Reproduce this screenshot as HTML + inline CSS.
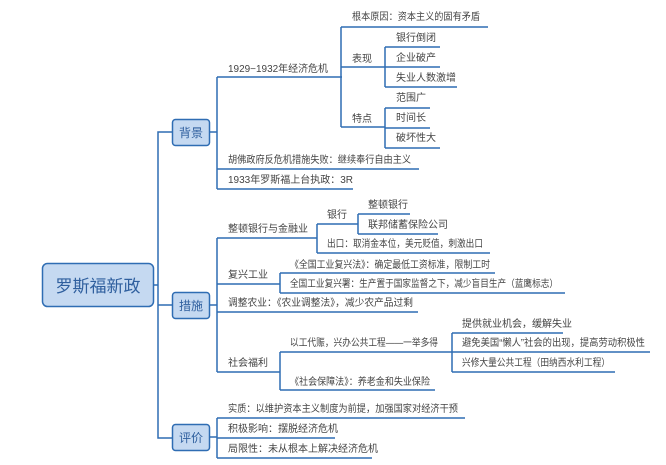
<!DOCTYPE html>
<html><head><meta charset="utf-8"><style>
html,body{margin:0;padding:0;background:#fff;}
svg{display:block;}
text{font-family:"Liberation Sans","Noto Sans CJK SC","WenQuanYi Zen Hei",sans-serif;font-size:10px;fill:#444;}
.l{stroke:#2f6db3;stroke-width:1.5;fill:none;}
.c{stroke:#aab;stroke-width:0.8;fill:#fff;}
</style></head><body>
<svg width="666" height="465" viewBox="0 0 666 465">
<!-- root -->
<rect x="42.5" y="263.5" width="111" height="43" rx="5" fill="#c5d9f1" stroke="#2f6db3" stroke-width="1.5"/>
<text x="98" y="292" text-anchor="middle" style="font-size:17px;fill:#2f5f9e">罗斯福新政</text>
<path class="l" d="M153 285 H158 M163 132 H158 V438 H172 M158 305 H172 M158 132 H172"/>
<!-- branches -->
<rect x="172.5" y="119.5" width="37" height="26" rx="3" fill="#c5d9f1" stroke="#2f6db3" stroke-width="1.5"/>
<text x="191" y="137" text-anchor="middle" style="font-size:12px;fill:#2f5f9e">背景</text>
<rect x="172.5" y="292.5" width="37" height="26" rx="3" fill="#c5d9f1" stroke="#2f6db3" stroke-width="1.5"/>
<text x="191" y="310" text-anchor="middle" style="font-size:12px;fill:#2f5f9e">措施</text>
<rect x="172.5" y="424.5" width="37" height="26" rx="3" fill="#c5d9f1" stroke="#2f6db3" stroke-width="1.5"/>
<text x="191" y="442" text-anchor="middle" style="font-size:12px;fill:#2f5f9e">评价</text>

<!-- 背景 -->
<path class="l" d="M209 132 H217 M217 77 V189 M217 77 H342 M217 169 H419 M217 189 H353
M341 27 V127 M341 27 H488 M341 67 H385 M341 127 H385
M385 47 V87 M385 47 H440 M385 67 H440 M385 87 H457
M385 108 V148 M385 108 H430 M385 128 H430 M385 148 H440"/>
<text x="228" y="72" textLength="100" lengthAdjust="spacingAndGlyphs">1929−1932年经济危机</text>
<text x="352" y="20" textLength="128" lengthAdjust="spacingAndGlyphs">根本原因：资本主义的固有矛盾</text>
<text x="352" y="62">表现</text>
<text x="396" y="41">银行倒闭</text>
<text x="396" y="61">企业破产</text>
<text x="396" y="81">失业人数激增</text>
<text x="352" y="122">特点</text>
<text x="396" y="101">范围广</text>
<text x="396" y="121">时间长</text>
<text x="396" y="141">破坏性大</text>
<text x="228" y="163" textLength="183" lengthAdjust="spacingAndGlyphs">胡佛政府反危机措施失败：继续奉行自由主义</text>
<text x="228" y="183">1933年罗斯福上台执政：3R</text>

<!-- 措施 -->
<path class="l" d="M209 305 H217 M217 238 V372 M217 238 H317 M217 284 H280 M217 312 H418 M217 372 H280
M317 224 V253 M317 224 H358 M317 253 H490
M358 214 V234 M358 214 H410 M358 234 H438
M280 273 V293 M280 273 H495 M280 293 H565
M280 352 V390 M280 352 H452 M280 390 H435
M452 333 V372 M452 333 H563 M452 352 H650 M452 372 H615"/>
<text x="228" y="232">整顿银行与金融业</text>
<text x="327" y="218">银行</text>
<text x="368" y="208">整顿银行</text>
<text x="368" y="228">联邦储蓄保险公司</text>
<text x="327" y="247" textLength="156" lengthAdjust="spacingAndGlyphs">出口：取消金本位，美元贬值，刺激出口</text>
<text x="228" y="278">复兴工业</text>
<text x="290" y="268" textLength="200" lengthAdjust="spacingAndGlyphs">《全国工业复兴法》：确定最低工资标准，限制工时</text>
<text x="290" y="287" textLength="268" lengthAdjust="spacingAndGlyphs">全国工业复兴署：生产置于国家监督之下，减少盲目生产（蓝鹰标志）</text>
<text x="228" y="306" textLength="185" lengthAdjust="spacingAndGlyphs">调整农业：《农业调整法》，减少农产品过剩</text>
<text x="228" y="366">社会福利</text>
<text x="290" y="346" textLength="148" lengthAdjust="spacingAndGlyphs">以工代赈，兴办公共工程——一举多得</text>
<text x="462" y="327">提供就业机会，缓解失业</text>
<text x="462" y="346" textLength="183" lengthAdjust="spacingAndGlyphs">避免美国“懒人”社会的出现，提高劳动积极性</text>
<text x="462" y="366" textLength="148" lengthAdjust="spacingAndGlyphs">兴修大量公共工程（田纳西水利工程）</text>
<text x="290" y="385" textLength="140" lengthAdjust="spacingAndGlyphs">《社会保障法》：养老金和失业保险</text>

<!-- 评价 -->
<path class="l" d="M209 437 H217 M217 418 V458 M217 418 H465 M217 438 H335 M217 458 H372"/>
<text x="228" y="412" textLength="230" lengthAdjust="spacingAndGlyphs">实质：以维护资本主义制度为前提，加强国家对经济干预</text>
<text x="228" y="432">积极影响：摆脱经济危机</text>
<text x="228" y="452">局限性：未从根本上解决经济危机</text>
</svg>
</body></html>
